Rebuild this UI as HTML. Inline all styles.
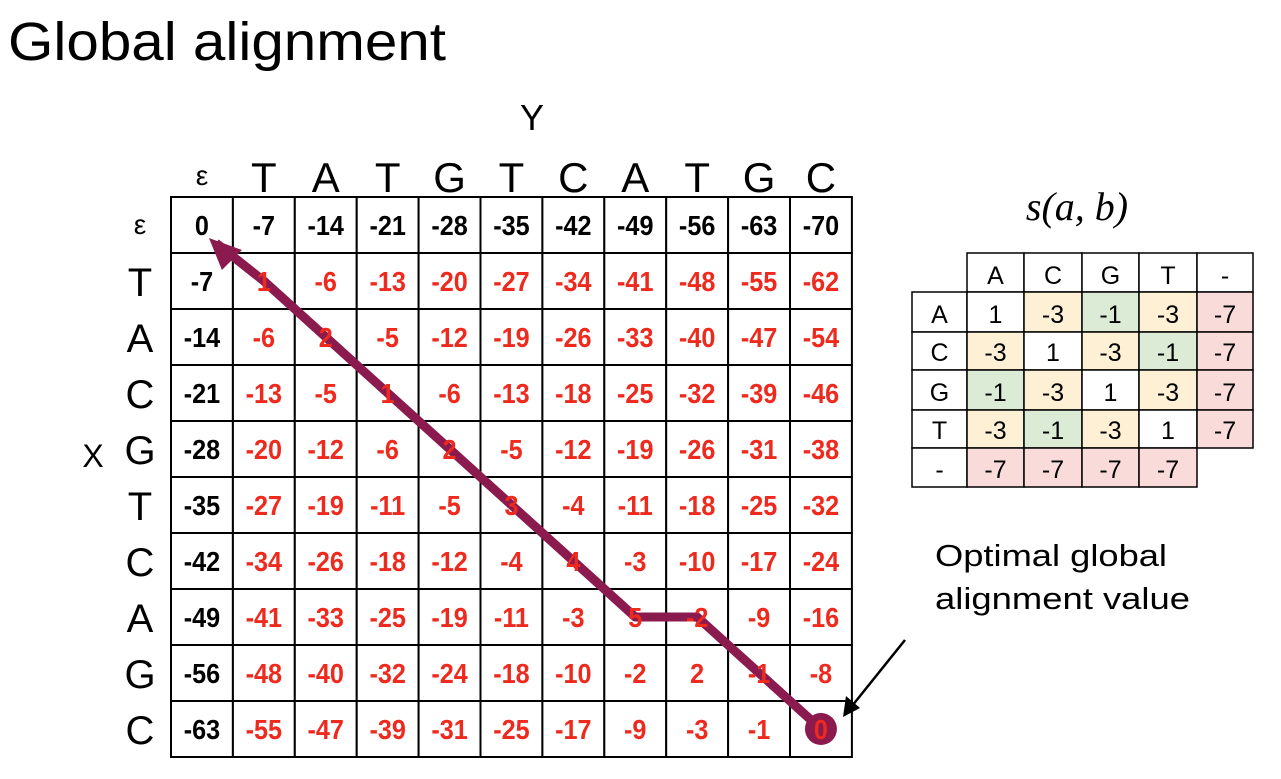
<!DOCTYPE html>
<html><head><meta charset="utf-8"><style>
body{margin:0;background:#fff;width:1281px;height:774px;overflow:hidden;font-family:"Liberation Sans",sans-serif}
</style></head><body>
<svg width="1281" height="774" xmlns="http://www.w3.org/2000/svg">
<text x="8" y="60" font-size="54" textLength="438" lengthAdjust="spacingAndGlyphs" font-family="Liberation Sans">Global alignment</text>
<g id="main"></g>
<g id="score"></g>
<g>
<text x="935" y="566" font-size="31" textLength="232" lengthAdjust="spacingAndGlyphs" font-family="Liberation Sans">Optimal global</text>
<text x="935" y="609" font-size="31" textLength="255" lengthAdjust="spacingAndGlyphs" font-family="Liberation Sans">alignment value</text>
<line x1="905" y1="640" x2="852" y2="706" stroke="#000" stroke-width="2.5"/>
<polygon points="843,717 846,696 860,708" fill="#000"/>
</g>
</svg>
<script>
const colLabels=["ε","T","A","T","G","T","C","A","T","G","C"];
const rowLabels=["ε","T","A","C","G","T","C","A","G","C"];
const matrix=[
[0,-7,-14,-21,-28,-35,-42,-49,-56,-63,-70],
[-7,1,-6,-13,-20,-27,-34,-41,-48,-55,-62],
[-14,-6,2,-5,-12,-19,-26,-33,-40,-47,-54],
[-21,-13,-5,1,-6,-13,-18,-25,-32,-39,-46],
[-28,-20,-12,-6,2,-5,-12,-19,-26,-31,-38],
[-35,-27,-19,-11,-5,3,-4,-11,-18,-25,-32],
[-42,-34,-26,-18,-12,-4,4,-3,-10,-17,-24],
[-49,-41,-33,-25,-19,-11,-3,5,-2,-9,-16],
[-56,-48,-40,-32,-24,-18,-10,-2,2,-1,-8],
[-63,-55,-47,-39,-31,-25,-17,-9,-3,-1,0]];
const path=[[9,10],[8,9],[7,8],[7,7],[6,6],[5,5],[4,4],[3,3],[2,2],[1,1],[0,0]];
const sLabels=["A","C","G","T","-"];
const sMatrix=[[1,-3,-1,-3,-7],[-3,1,-3,-1,-7],[-1,-3,1,-3,-7],[-3,-1,-3,1,-7],[-7,-7,-7,-7,null]];
const NS="http://www.w3.org/2000/svg";
function mk(p,t,a,txt){const e=document.createElementNS(NS,t);for(const k in a)e.setAttribute(k,a[k]);if(txt!==undefined)e.textContent=txt;p.appendChild(e);return e;}
const X0=171,Y0=197,CW=61.9,RH=56;
const cx=j=>X0+CW*(j+0.5), cy=i=>Y0+RH*(i+0.5);
const g=document.getElementById('main');
mk(g,'text',{x:532,y:130,'font-size':36,'text-anchor':'middle'},'Y');
mk(g,'text',{x:93,y:467,'font-size':32,'text-anchor':'middle'},'X');
colLabels.forEach((c,j)=>{const t=mk(g,'text',{x:cx(j),y:c==="ε"?185:192,'font-size':c==="ε"?28:42,'text-anchor':'middle'},c);

});
rowLabels.forEach((c,i)=>{const t=mk(g,'text',{x:140,y:cy(i)+(c==="ε"?9:15),'font-size':c==="ε"?28:40,'text-anchor':'middle'},c);

});
matrix.forEach((row,i)=>row.forEach((v,j)=>{
 const r=mk(g,'rect',{x:X0+CW*j,y:Y0+RH*i,width:CW,height:RH,fill:'#fff',stroke:'#000','stroke-width':2});
 
 
}));
const pts=path.map(([i,j])=>[cx(j),cy(i)]);
const last=pts[pts.length-1];
const pl=pts.slice(0,-1).map(p=>p.join(',')).join(' ')+' '+(last[0]+14)+','+(last[1]+18);
const line=mk(g,'polyline',{points:pl,fill:'none',stroke:'#8b1a4f','stroke-width':9,'stroke-linejoin':'round'});


const tip=[last[0]+7,last[1]+13];
mk(g,'polygon',{points:`${tip[0]},${tip[1]} ${tip[0]+33},${tip[1]+12} ${tip[0]+13},${tip[1]+32}`,fill:'#8b1a4f'});
const end=pts[0];
const dot=mk(g,'circle',{cx:end[0],cy:end[1],r:16,fill:'#8b1a4f'});


matrix.forEach((row,i)=>row.forEach((v,j)=>{
 const black=(i===0||j===0);
 const t=mk(g,'text',{x:cx(j),y:cy(i)+10,'font-size':28,'font-weight':'bold','text-anchor':'middle',fill:black?'#000':'#ee2a1e',transform:`translate(${cx(j)},0) scale(0.9,1) translate(${-cx(j)},0)`},String(v));
 
 
}));
const s=document.getElementById('score');
mk(s,'text',{x:1077,y:220,'font-size':40,'font-family':'Liberation Serif','text-anchor':'middle','font-style':'italic'},'s(a, b)');
const sx=[912,967,1024,1082,1139,1197,1253], sy=[253,292,332,370,410,448,487];
function color(v){if(v===-3)return '#fdf0d5';if(v===-1)return '#dcebd6';if(v===-7)return '#f9dcd9';return '#fff';}
sLabels.forEach((c,j)=>{
 mk(s,'rect',{x:sx[j+1],y:sy[0],width:sx[j+2]-sx[j+1],height:sy[1]-sy[0],fill:'#fff',stroke:'#000','stroke-width':1.5});
 mk(s,'text',{x:(sx[j+1]+sx[j+2])/2,y:sy[1]-8,'font-size':25,'text-anchor':'middle'},c);
});
sMatrix.forEach((row,i)=>{
 mk(s,'rect',{x:sx[0],y:sy[i+1],width:sx[1]-sx[0],height:sy[i+2]-sy[i+1],fill:'#fff',stroke:'#000','stroke-width':1.5});
 mk(s,'text',{x:(sx[0]+sx[1])/2,y:sy[i+2]-9,'font-size':25,'text-anchor':'middle'},sLabels[i]);
 row.forEach((v,j)=>{ if(v===null)return;
  const r=mk(s,'rect',{x:sx[j+1],y:sy[i+1],width:sx[j+2]-sx[j+1],height:sy[i+2]-sy[i+1],fill:color(v),stroke:'#000','stroke-width':1.5});
  
  
  mk(s,'text',{x:(sx[j+1]+sx[j+2])/2,y:sy[i+2]-9,'font-size':25,'text-anchor':'middle'},String(v));
 });
});
</script>
</body></html>
